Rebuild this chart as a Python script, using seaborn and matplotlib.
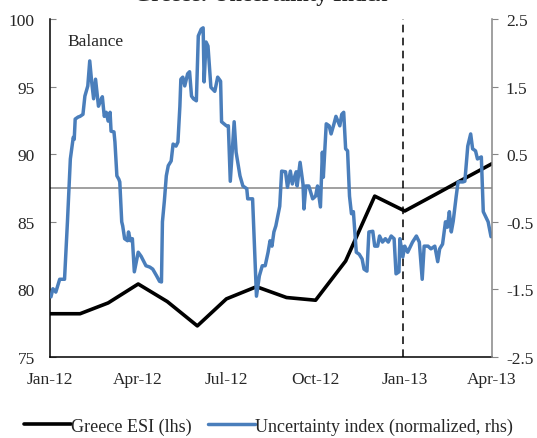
import matplotlib
matplotlib.use("Agg")
import matplotlib.pyplot as plt
import matplotlib.dates as mdates
import seaborn as sns
import pandas as pd

# Greece ESI, monthly balance (left axis)
esi_months = ["2012-01-01", "2012-02-01", "2012-03-01", "2012-04-01", "2012-05-01",
              "2012-06-01", "2012-07-01", "2012-08-01", "2012-09-01", "2012-10-01",
              "2012-11-01", "2012-12-01", "2013-01-01", "2013-02-01", "2013-03-01",
              "2013-04-01"]
esi_values = [78.2, 78.2, 79.0, 80.4, 79.1, 77.3, 79.3, 80.2, 79.4, 79.2,
              82.1, 86.9, 85.8, 87.0, 88.1, 89.3]

# Uncertainty index, normalized (right axis)
unc_dates = [
    "2012-01-02", "2012-01-04", "2012-01-07", "2012-01-11", "2012-01-14", "2012-01-16",
    "2012-01-19", "2012-01-22", "2012-01-25", "2012-01-26", "2012-01-27", "2012-01-30",
    "2012-02-01", "2012-02-04", "2012-02-06", "2012-02-09", "2012-02-11", "2012-02-13",
    "2012-02-15", "2012-02-17", "2012-02-20", "2012-02-23", "2012-02-24", "2012-02-26",
    "2012-02-28", "2012-03-01", "2012-03-03", "2012-03-04", "2012-03-07", "2012-03-08",
    "2012-03-10", "2012-03-12", "2012-03-13", "2012-03-15", "2012-03-16", "2012-03-18",
    "2012-03-21", "2012-03-22", "2012-03-24", "2012-03-26", "2012-03-28",
    "2012-04-01", "2012-04-04", "2012-04-09", "2012-04-13", "2012-04-16", "2012-04-20",
    "2012-04-23", "2012-04-25", "2012-04-26", "2012-04-28", "2012-04-30", "2012-05-02",
    "2012-05-05", "2012-05-07", "2012-05-10", "2012-05-12", "2012-05-14", "2012-05-15",
    "2012-05-17", "2012-05-19", "2012-05-22", "2012-05-24", "2012-05-26", "2012-05-28",
    "2012-05-31", "2012-06-02", "2012-06-05", "2012-06-07", "2012-06-08", "2012-06-10",
    "2012-06-12", "2012-06-15", "2012-06-19", "2012-06-22", "2012-06-25", "2012-06-26",
    "2012-07-01", "2012-07-03", "2012-07-05", "2012-07-09", "2012-07-11", "2012-07-15",
    "2012-07-18", "2012-07-22", "2012-07-23", "2012-07-28", "2012-08-01", "2012-08-04",
    "2012-08-07", "2012-08-10", "2012-08-13", "2012-08-15", "2012-08-17", "2012-08-19",
    "2012-08-21", "2012-08-25", "2012-08-27", "2012-08-31", "2012-09-02", "2012-09-05",
    "2012-09-07", "2012-09-11", "2012-09-12", "2012-09-15", "2012-09-18", "2012-09-19",
    "2012-09-21", "2012-09-24", "2012-09-28", "2012-10-01", "2012-10-03", "2012-10-06",
    "2012-10-08", "2012-10-09", "2012-10-12", "2012-10-15", "2012-10-17", "2012-10-20",
    "2012-10-22", "2012-10-26", "2012-10-28", "2012-10-30", "2012-11-01", "2012-11-03",
    "2012-11-05", "2012-11-07", "2012-11-09", "2012-11-12", "2012-11-15", "2012-11-18",
    "2012-11-20", "2012-11-23", "2012-11-25", "2012-11-29", "2012-12-01", "2012-12-04",
    "2012-12-06", "2012-12-09", "2012-12-12", "2012-12-15", "2012-12-18", "2012-12-21",
    "2012-12-23", "2012-12-26", "2012-12-27", "2012-12-30", "2013-01-01", "2013-01-04",
    "2013-01-09", "2013-01-13", "2013-01-16", "2013-01-19", "2013-01-21", "2013-01-25",
    "2013-01-28", "2013-02-01", "2013-02-04", "2013-02-06", "2013-02-09", "2013-02-12",
    "2013-02-14", "2013-02-16", "2013-02-18", "2013-02-20", "2013-02-23", "2013-02-25",
    "2013-03-02", "2013-03-04", "2013-03-07", "2013-03-10", "2013-03-12", "2013-03-15",
    "2013-03-17", "2013-03-21", "2013-03-23", "2013-03-25", "2013-03-28", "2013-03-31",
]
unc_values = [
    -1.61, -1.49, -1.54, -1.35, -1.35, -1.35,
    -0.50, 0.43, 0.75, 0.72, 1.02, 1.05,
    1.06, 1.09, 1.36, 1.51, 1.88, 1.57,
    1.32, 1.61, 1.21, 1.32, 1.35, 1.06,
    1.12, 0.99, 1.12, 0.84, 0.83, 0.68,
    0.18, 0.13, 0.09, -0.50, -0.56, -0.75,
    -0.78, -0.65, -0.78, -0.75, -1.24,
    -0.95, -1.01, -1.15, -1.17, -1.20, -1.30,
    -1.38, -1.39, -0.50, -0.19, 0.18, 0.33,
    0.40, 0.65, 0.62, 0.68, 1.21, 1.61,
    1.64, 1.51, 1.69, 1.72, 1.36, 1.32,
    1.29, 2.25, 2.35, 2.37, 1.57, 2.16,
    2.10, 1.49, 1.43, 1.64, 1.58, 0.98,
    0.92, 0.92, 0.10, 0.98, 0.53, 0.18,
    0.03, -0.01, -0.16, -0.16, -1.60, -1.30,
    -1.15, -1.15, -0.95, -0.78, -0.86, -0.65,
    -0.56, -0.27, 0.25, 0.24, 0.01, 0.25,
    0.06, 0.24, 0.03, 0.38, 0.06, -0.31,
    0.03, 0.03, -0.16, -0.12, 0.03, -0.28,
    0.53, 0.16, 0.95, 0.92, 0.80, 0.95,
    1.06, 0.92, 1.09, 1.12, 0.58, 0.55,
    -0.12, -0.38, -0.35, -0.95, -0.98, -1.05,
    -1.20, -1.23, -0.65, -0.64, -0.86, -0.86,
    -0.71, -0.80, -0.75, -0.80, -0.71, -0.75,
    -1.27, -1.24, -0.75, -1.02, -0.86, -0.95,
    -0.80, -0.71, -0.80, -1.35, -0.86, -0.86,
    -0.90, -0.86, -1.09, -0.90, -0.83, -0.50,
    -0.58, -0.35, -0.65, -0.49, -0.13, 0.09,
    0.09, 0.10, 0.62, 0.80, 0.58, 0.55,
    0.43, 0.46, -0.35, -0.41, -0.50, -0.72,
]

left_ticks = [75, 80, 85, 90, 95, 100]
right_ticks = [-2.5, -1.5, -0.5, 0.5, 1.5, 2.5]
x_ticks = ["2012-01-01", "2012-04-01", "2012-07-01", "2012-10-01", "2013-01-01", "2013-04-01"]
event_date = "2012-12-30"

esi = pd.DataFrame({"date": pd.to_datetime(esi_months), "value": esi_values})
unc = pd.DataFrame({"date": pd.to_datetime(unc_dates), "value": unc_values})

sns.set_style("white")
plt.rcParams["font.family"] = ["Liberation Serif", "DejaVu Serif"]
plt.rcParams["axes.unicode_minus"] = False

blue = "#4A7EBB"
grey = "#868686"
fs = 12.5

fig = plt.figure(figsize=(5.37, 4.39), dpi=100)
ax = fig.add_axes([0.0931, 0.1845, 0.8231, 0.7699])
ax2 = ax.twinx()

# Left axis: ESI
sns.lineplot(data=esi, x="date", y="value", ax=ax, color="black", linewidth=2.6,
             label="Greece ESI (lhs)", legend=False)
ax.axhline(87.5, color=grey, linewidth=1.1, zorder=1)
ax.axvline(pd.Timestamp(event_date), color="black", linewidth=1.1,
           linestyle=(0, (5, 3.5)), zorder=1)

# Right axis: uncertainty index
sns.lineplot(data=unc, x="date", y="value", ax=ax2, color=blue, linewidth=2.5,
             label="Uncertainty index (normalized, rhs)", legend=False)

ax.set_ylim(75, 100)
ax.set_yticks(left_ticks)
ax2.set_ylim(-2.5, 2.5)
ax2.set_yticks(right_ticks)
ax2.set_yticklabels([f"{t:g}" for t in right_ticks])
ax.set_xlim(pd.Timestamp("2012-01-01"), pd.Timestamp("2013-04-01"))
ax.set_xticks(pd.to_datetime(x_ticks))
ax.xaxis.set_major_formatter(mdates.DateFormatter("%b-%y"))

ax.set_xlabel("")
ax.set_ylabel("")
ax2.set_ylabel("")

for a in (ax, ax2):
    a.spines["top"].set_visible(False)
ax.spines["right"].set_visible(False)
ax2.spines["left"].set_visible(False)
ax2.spines["bottom"].set_visible(False)
ax.spines["left"].set_color("black")
ax.spines["bottom"].set_color("black")
ax2.spines["right"].set_color(grey)
for s in ("left", "bottom"):
    ax.spines[s].set_linewidth(1.1)
ax2.spines["right"].set_linewidth(1.1)

ax.tick_params(axis="y", direction="in", length=4, color=grey, labelsize=fs, pad=11)
ax.tick_params(axis="x", direction="out", length=4, color=grey, labelsize=fs, pad=6)
ax2.tick_params(axis="y", direction="out", length=4, color=grey, labelsize=fs, pad=6)
ax.tick_params(axis="y", which="both", left=True)
ax2.tick_params(axis="y", right=True)

ax.text(0.04, 0.96, "Balance", transform=ax.transAxes, fontsize=fs, va="top", ha="left")

# Title, cut off at the top edge as in the source image
fig.text(0.485, 1 - 0.7 / 439, "Greece: Uncertainty Index", ha="center", va="baseline",
         fontsize=16, fontweight="bold")

h1, l1 = ax.get_legend_handles_labels()
h2, l2 = ax2.get_legend_handles_labels()
fig.legend(h1 + h2, l1 + l2, loc="lower center", bbox_to_anchor=(0.5, -0.013), ncol=2,
           frameon=False, fontsize=13, handlelength=2.6, handletextpad=0.0,
           columnspacing=0.9, borderpad=0.0)

fig.savefig("out.png", dpi=100)
